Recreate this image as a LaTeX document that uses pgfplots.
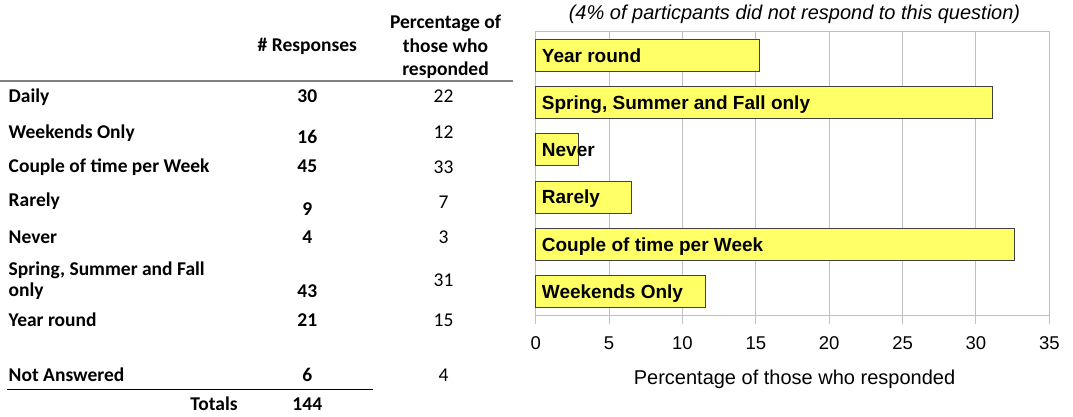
\documentclass[border=0pt]{standalone}
\usepackage{pgfplots}
\pgfplotsset{compat=1.18}
\usepackage{fontspec}
\setmainfont{Liberation Sans}
\newfontfamily\tabfont{Carlito}
\definecolor{baryellow}{RGB}{255,255,102}
\definecolor{bardraw}{RGB}{64,64,64}
\definecolor{gridgray}{RGB}{192,192,192}
\definecolor{hdrline}{RGB}{128,128,128}
\newcommand{\tb}{\tabfont\bfseries\fontsize{19.5}{23.4}\selectfont}
\newcommand{\tr}{\tabfont\fontsize{19.5}{23.4}\selectfont}
\begin{document}
\begin{tikzpicture}[x=1pt,y=1pt]
\useasboundingbox (0,0) rectangle (1073,416);
% ---------- table ----------
\draw[hdrline, line width=2pt] (0,335) -- (513,335);
\draw[black, line width=1.3pt] (7.3,26.7) -- (373.3,26.7);
\node[anchor=base, inner sep=0] at (307.3,364.3) {\tb \# Responses};
\node[anchor=base, inner sep=0] at (445.5,387.7) {\tb Percentage of};
\node[anchor=base, inner sep=0] at (445.5,363.0) {\tb those who};
\node[anchor=base, inner sep=0] at (445.5,341.0) {\tb responded};
% row labels
\node[anchor=base west, inner sep=0] at (8.5,314.0) {\tb Daily};
\node[anchor=base west, inner sep=0] at (8.5,277.7) {\tb Weekends Only};
\node[anchor=base west, inner sep=0] at (8.5,243.3) {\tb Couple of time per Week};
\node[anchor=base west, inner sep=0] at (8.5,209.3) {\tb Rarely};
\node[anchor=base west, inner sep=0] at (8.5,172.7) {\tb Never};
\node[anchor=base west, inner sep=0] at (8.5,141.0) {\tb Spring, Summer and Fall};
\node[anchor=base west, inner sep=0] at (8.5,119.3) {\tb only};
\node[anchor=base west, inner sep=0] at (8.5,90.0) {\tb Year round};
\node[anchor=base west, inner sep=0] at (8.5,34.3) {\tb Not Answered};
\node[anchor=base, inner sep=0] at (214,6.0) {\tb Totals};
% responses
\node[anchor=base, inner sep=0] at (307.3,313.5) {\tb 30};
\node[anchor=base, inner sep=0] at (307.3,273.0) {\tb 16};
\node[anchor=base, inner sep=0] at (307.3,243.3) {\tb 45};
\node[anchor=base, inner sep=0] at (307.3,201.0) {\tb 9};
\node[anchor=base, inner sep=0] at (307.3,172.7) {\tb 4};
\node[anchor=base, inner sep=0] at (307.3,118.5) {\tb 43};
\node[anchor=base, inner sep=0] at (307.3,90.0) {\tb 21};
\node[anchor=base, inner sep=0] at (307.3,34.3) {\tb 6};
\node[anchor=base, inner sep=0] at (307.3,6.0) {\tb 144};
% percentages
\node[anchor=base, inner sep=0] at (443.5,313.0) {\tr 22};
\node[anchor=base, inner sep=0] at (443.5,277.7) {\tr 12};
\node[anchor=base, inner sep=0] at (443.5,242.7) {\tr 33};
\node[anchor=base, inner sep=0] at (443.5,207.7) {\tr 7};
\node[anchor=base, inner sep=0] at (443.5,172.7) {\tr 3};
\node[anchor=base, inner sep=0] at (443.5,130.0) {\tr 31};
\node[anchor=base, inner sep=0] at (443.5,90.0) {\tr 15};
\node[anchor=base, inner sep=0] at (443.5,34.3) {\tr 4};
% ---------- chart ----------
\begin{axis}[
  at={(535.7pt,100.7pt)}, anchor=south west,
  scale only axis, width=513.6pt, height=283.6pt,
  xmin=0, xmax=35, ymin=-0.5, ymax=5.5,
  xtick={0,5,10,15,20,25,30,35}, ytick=\empty,
  xmajorgrids, grid style={gridgray, line width=1pt},
  axis line style={gridgray, line width=1pt},
  tick style={gridgray, line width=1pt},
  tick align=outside, major tick length=9pt, xtick pos=left,
  /pgf/number format/assume math mode=true,
  xticklabel style={font=\fontsize{18.5}{20}\selectfont, anchor=base, yshift=-24.7pt, text=black},
  xlabel={Percentage of those who responded},
  xlabel style={font=\fontsize{20}{24}\selectfont, at={(axis description cs:0.5,0)}, anchor=base, yshift=-68.7pt, xshift=2pt},
  title={(4\% of particpants did not respond to this question)},
  title style={font=\fontsize{20}{24}\selectfont\itshape, at={(axis description cs:0.5,1)}, anchor=base, yshift=6pt, xshift=2pt},
  clip=false,
]
\addplot[xbar, bar width=32pt, fill=baryellow, draw=bardraw, line width=1pt]
  coordinates {(15.22,5) (31.16,4) (2.90,3) (6.52,2) (32.61,1) (11.59,0)};
\addplot[only marks, mark=*, mark size=0pt, mark options={draw=none, fill=none},
  nodes near coords, point meta=explicit symbolic,
  nodes near coords style={anchor=base west, inner sep=0pt, xshift=6pt, yshift=-6.8pt,
    font=\bfseries\fontsize{19}{22}\selectfont, text=black}]
  coordinates {(0,5) [Year round] (0,4) [{Spring, Summer and Fall only}] (0,3) [Never]
               (0,2) [Rarely] (0,1) [Couple of time per Week] (0,0) [Weekends Only]};
\end{axis}
\end{tikzpicture}
\end{document}
